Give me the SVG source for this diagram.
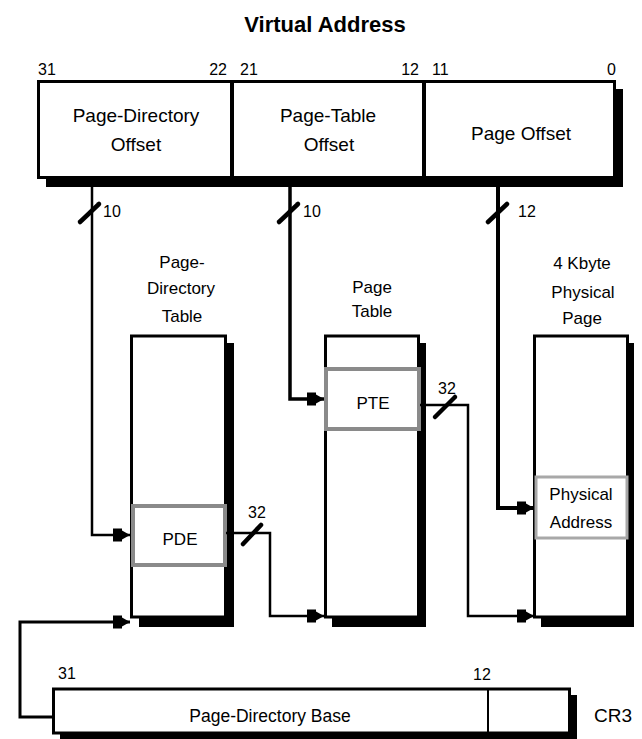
<svg xmlns="http://www.w3.org/2000/svg" width="642" height="739" viewBox="0 0 642 739">
<style>
text{font-family:"Liberation Sans",Arial,sans-serif;fill:#000}
.t{font-size:22px;font-weight:bold;text-anchor:middle}
.f{font-size:19px;text-anchor:middle}
.s{font-size:17px;text-anchor:middle}
.n{font-size:16px}
.e{text-anchor:end}
.sh{fill:#000}
.bx{fill:#fff;stroke:#000;stroke-width:3}
.gr{fill:#fff;stroke:#8a8a8a;stroke-width:4}
.gl{fill:#fff;stroke:#a8a8a8;stroke-width:3}
.c{fill:none;stroke:#000;stroke-linejoin:miter}
.sl{stroke:#000;stroke-width:4.5;stroke-linecap:round}
</style>
<defs>
<marker id="ah" markerUnits="userSpaceOnUse" markerWidth="24" markerHeight="16" viewBox="-18 -8 20 16" refX="0" refY="0" orient="auto" overflow="visible">
<path d="M-17,-6.5 H-8 V-4.5 L0,0 L-8,4.5 V6.5 H-17 Z" fill="#000"/>
</marker>
</defs>

<text class="t" x="325" y="32">Virtual Address</text>

<g id="virtual-address">
<rect class="sh" x="46" y="89" width="577" height="98"/>
<rect class="bx" x="38.5" y="81.5" width="576" height="96"/>
<line x1="232" y1="81" x2="232" y2="178" stroke="#000" stroke-width="4"/>
<line x1="424" y1="81" x2="424" y2="178" stroke="#000" stroke-width="4"/>
<text class="n" x="38" y="75">31</text>
<text class="n e" x="227" y="75">22</text>
<text class="n" x="240" y="75">21</text>
<text class="n e" x="419" y="75">12</text>
<text class="n" x="432" y="75">11</text>
<text class="n e" x="616" y="75">0</text>
<text class="f" x="136" y="122">Page-Directory</text>
<text class="f" x="136" y="151">Offset</text>
<text class="f" x="328" y="122">Page-Table</text>
<text class="f" x="329" y="151">Offset</text>
<text class="f" x="521" y="140">Page Offset</text>
</g>

<g id="page-directory-table">
<text class="s" x="182" y="268">Page-</text>
<text class="s" x="181" y="294">Directory</text>
<text class="s" x="182" y="322">Table</text>
<rect class="sh" x="139" y="343" width="95" height="284"/>
<rect class="bx" x="131.5" y="336" width="94" height="281"/>
</g>
<g id="pde">
<rect class="gr" x="133" y="506" width="92" height="59"/>
<text class="s" x="180" y="545">PDE</text>
</g>

<g id="page-table">
<text class="s" x="372" y="293">Page</text>
<text class="s" x="372" y="317">Table</text>
<rect class="sh" x="332" y="343" width="94" height="284"/>
<rect class="bx" x="325.5" y="336" width="93" height="281"/>
</g>
<g id="pte">
<rect class="gr" x="326" y="369" width="93" height="60"/>
<text class="s" x="373" y="409">PTE</text>
</g>

<g id="physical-page">
<text class="s" x="582" y="269">4 Kbyte</text>
<text class="s" x="583" y="298">Physical</text>
<text class="s" x="582" y="324">Page</text>
<rect class="sh" x="541" y="343" width="93" height="284"/>
<rect class="bx" x="534.5" y="336" width="93" height="281"/>
</g>
<g id="physical-address">
<rect class="gl" x="536" y="477" width="91" height="61"/>
<text class="s" x="581" y="500">Physical</text>
<text class="s" x="581" y="528">Address</text>
</g>

<g id="cr3">
<rect class="sh" x="60" y="695" width="517" height="50"/>
<rect class="bx" x="53.5" y="689" width="516" height="44"/>
<line x1="488" y1="689" x2="488" y2="733" stroke="#000" stroke-width="2"/>
<text class="n" x="58" y="679">31</text>
<text class="n" x="473" y="680">12</text>
<text class="f" x="270" y="722" style="font-size:17.5px">Page-Directory Base</text>
<text x="594" y="722" style="font-size:19px">CR3</text>
</g>

<g id="connectors">
<path class="c" d="M92,187 V535 H130" stroke-width="2.5" marker-end="url(#ah)"/>
<path class="c" d="M290,187 V399 H324" stroke-width="3.5" marker-end="url(#ah)"/>
<path class="c" d="M498,187 V508 H534" stroke-width="4" marker-end="url(#ah)"/>
<path class="c" d="M226,533 H270 V616 H324" stroke-width="2.5" marker-end="url(#ah)"/>
<path class="c" d="M420,405 H468 V616 H534" stroke-width="2.5" marker-end="url(#ah)"/>
<path class="c" d="M54,717 H20 V622 H130" stroke-width="3" marker-end="url(#ah)"/>
<line class="sl" x1="80" y1="222" x2="99" y2="204"/>
<line class="sl" x1="279" y1="222" x2="298" y2="204"/>
<line class="sl" x1="488" y1="222" x2="507" y2="204"/>
<line class="sl" x1="435" y1="417" x2="455" y2="397"/>
<line class="sl" x1="243" y1="544" x2="261" y2="525"/>
<text class="n" x="103" y="217">10</text>
<text class="n" x="303" y="217">10</text>
<text class="n" x="518" y="217">12</text>
<text class="n" x="438" y="394">32</text>
<text class="n" x="248" y="518">32</text>
</g>
</svg>
